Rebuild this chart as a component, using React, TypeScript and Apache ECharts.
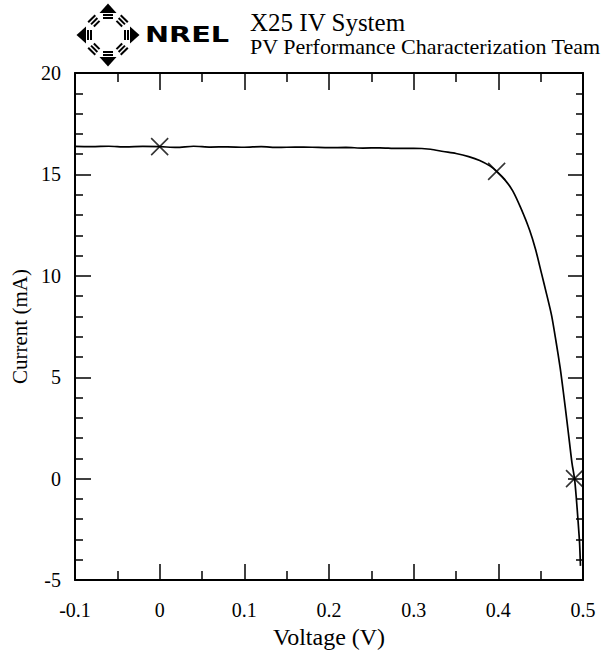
import React, { useEffect, useRef } from "react";
import * as echarts from "echarts";

// ---- data ----
const voltage = [
  -0.1, -0.08, -0.06, -0.04, -0.02, 0, 0.02, 0.04, 0.06, 0.08, 0.1, 0.12, 0.14,
  0.16, 0.18, 0.2, 0.22, 0.24, 0.26, 0.28, 0.3, 0.32, 0.335, 0.35, 0.365, 0.378,
  0.39, 0.398, 0.408, 0.417, 0.427, 0.437, 0.444, 0.451, 0.457, 0.463, 0.468,
  0.473, 0.477, 0.481, 0.484, 0.487, 0.49, 0.492, 0.494, 0.496, 0.497,
];
const current = [
  16.38, 16.37, 16.39, 16.36, 16.38, 16.37, 16.33, 16.39, 16.35, 16.36, 16.34,
  16.37, 16.33, 16.35, 16.34, 16.32, 16.33, 16.3, 16.31, 16.28, 16.29, 16.24,
  16.13, 16.03, 15.88, 15.69, 15.42, 15.15, 14.72, 14.19, 13.3, 12.25, 11.3,
  10.12, 9.1, 8.03, 6.8, 5.47, 4.2, 2.85, 1.8, 0.77, 0, -0.9, -1.99, -3.2, -4.3,
];
const markerVoltage = [0, 0.398, 0.49];
const markerCurrent = [16.37, 15.15, 0];

const titleText = "X25 IV System";
const subtitleText = "PV Performance Characterization Team";
const logoText = "NREL";
const xName = "Voltage (V)";
const yName = "Current (mA)";

const serif = "Liberation Serif";

function logoElements() {
  const cx = 108;
  const cy = 35;
  const els: any[] = [];
  const arrow = (rot: number) => ({
    type: "group",
    x: cx,
    y: cy,
    rotation: rot,
    children: [
      { type: "polygon", shape: { points: [[-8.5, -22], [8.5, -22], [0, -31.5]] }, style: { fill: "#000" } },
      { type: "rect", shape: { x: -5, y: -21, width: 10, height: 2 }, style: { fill: "#000" } },
      { type: "rect", shape: { x: -5, y: -18, width: 10, height: 2 }, style: { fill: "#000" } },
    ],
  });
  const stripes = (rot: number) => ({
    type: "group",
    x: cx,
    y: cy,
    rotation: rot,
    children: [
      { type: "rect", shape: { x: -4, y: -17, width: 8, height: 2 }, style: { fill: "#000" } },
      { type: "rect", shape: { x: -4.5, y: -20.5, width: 9, height: 2 }, style: { fill: "#000" } },
      { type: "rect", shape: { x: -5, y: -24, width: 10, height: 2 }, style: { fill: "#000" } },
    ],
  });
  for (let k = 0; k < 4; k++) {
    els.push(arrow((k * Math.PI) / 2));
    els.push(stripes(Math.PI / 4 + (k * Math.PI) / 2));
  }
  els.push({
    type: "text",
    x: 145,
    y: 34.7,
    scaleX: 1.37,
    style: {
      text: logoText,
      x: 0,
      y: 0,
      fill: "#000",
      fontFamily: "DejaVu Sans",
      fontWeight: "bold",
      fontSize: 21,
      lineHeight: 18,
      align: "left",
      verticalAlign: "middle",
    },
  });
  return els;
}

export default function App() {
  const ref = useRef<HTMLDivElement>(null);

  useEffect(() => {
    document.body.style.margin = "0";
    if (!ref.current) return;
    const chart = echarts.init(ref.current, null, { renderer: "svg" });

    const lineData = voltage.map((v, i) => [v, current[i]]);
    const markerData = markerVoltage.map((v, i) => [v, markerCurrent[i]]);

    const xCommon = {
      type: "value",
      min: -0.1,
      max: 0.5,
      interval: 0.1,
      axisLine: { show: true, onZero: false, lineStyle: { color: "#000", width: 2 } },
      splitLine: { show: false },
      minorSplitLine: { show: false },
    };
    const yCommon = {
      type: "value",
      min: -5,
      max: 20,
      interval: 5,
      axisLine: { show: true, onZero: false, lineStyle: { color: "#000", width: 2 } },
      splitLine: { show: false },
      minorSplitLine: { show: false },
    };
    const fmtX = (v: number) => (Math.abs(v) < 1e-9 ? "0" : String(Math.round(v * 10) / 10));

    chart.setOption({
      animation: false,
      backgroundColor: "#fff",
      grid: { left: 75, right: 26, top: 73, bottom: 65, containLabel: false },
      xAxis: [
        {
          ...xCommon,
          position: "bottom",
          axisTick: { show: true, inside: true, length: 16, lineStyle: { color: "#000", width: 1.5 } },
          minorTick: { show: true, splitNumber: 2, length: 9, lineStyle: { color: "#000", width: 1.5 } },
          axisLabel: { color: "#000", fontFamily: serif, fontSize: 20, margin: 20, formatter: fmtX },
          name: xName,
          nameLocation: "middle",
          nameGap: 39,
          nameTextStyle: { color: "#000", fontFamily: serif, fontSize: 24 },
        },
        {
          ...xCommon,
          position: "top",
          axisTick: { show: true, inside: true, length: 17, lineStyle: { color: "#000", width: 1.5 } },
          minorTick: { show: true, splitNumber: 2, length: 9, lineStyle: { color: "#000", width: 1.5 } },
          axisLabel: { show: false },
        },
      ],
      yAxis: [
        {
          ...yCommon,
          position: "left",
          axisTick: { show: true, inside: true, length: 16, lineStyle: { color: "#000", width: 1.5 } },
          minorTick: { show: true, splitNumber: 5, length: 8, lineStyle: { color: "#000", width: 1.5 } },
          axisLabel: { color: "#000", fontFamily: serif, fontSize: 20, margin: 14 },
          name: yName,
          nameLocation: "middle",
          nameRotate: 90,
          nameGap: 41,
          nameTextStyle: { color: "#000", fontFamily: serif, fontSize: 21 },
        },
        {
          ...yCommon,
          position: "right",
          axisTick: { show: true, inside: true, length: 15, lineStyle: { color: "#000", width: 1.5 } },
          minorTick: { show: true, splitNumber: 5, length: 7, lineStyle: { color: "#000", width: 1.5 } },
          axisLabel: { show: false },
        },
      ],
      series: [
        {
          type: "line",
          xAxisIndex: 0,
          yAxisIndex: 0,
          data: lineData,
          showSymbol: false,
          symbol: "none",
          smooth: 0.25,
          lineStyle: { color: "#000", width: 1.7 },
          z: 2,
        },
        {
          type: "scatter",
          xAxisIndex: 0,
          yAxisIndex: 0,
          data: markerData,
          symbol: "path://M0,0L20,20M20,0L0,20",
          symbolSize: 17,
          itemStyle: { color: "none", borderColor: "#000", borderWidth: 1.6 },
          z: 3,
        },
      ],
      graphic: [
        ...logoElements(),
        {
          type: "text",
          x: 250,
          y: 22.5,
          style: {
            text: titleText,
            fill: "#000",
            fontFamily: serif,
            fontSize: 25,
            lineHeight: 20,
            align: "left",
            verticalAlign: "middle",
          },
        },
        {
          type: "text",
          x: 250,
          y: 46.5,
          style: {
            text: subtitleText,
            fill: "#000",
            fontFamily: serif,
            fontSize: 22,
            lineHeight: 18,
            align: "left",
            verticalAlign: "middle",
          },
        },
      ],
    });

    return () => {
      chart.dispose();
    };
  }, []);

  return <div ref={ref} style={{ width: 609, height: 654 }} />;
}
